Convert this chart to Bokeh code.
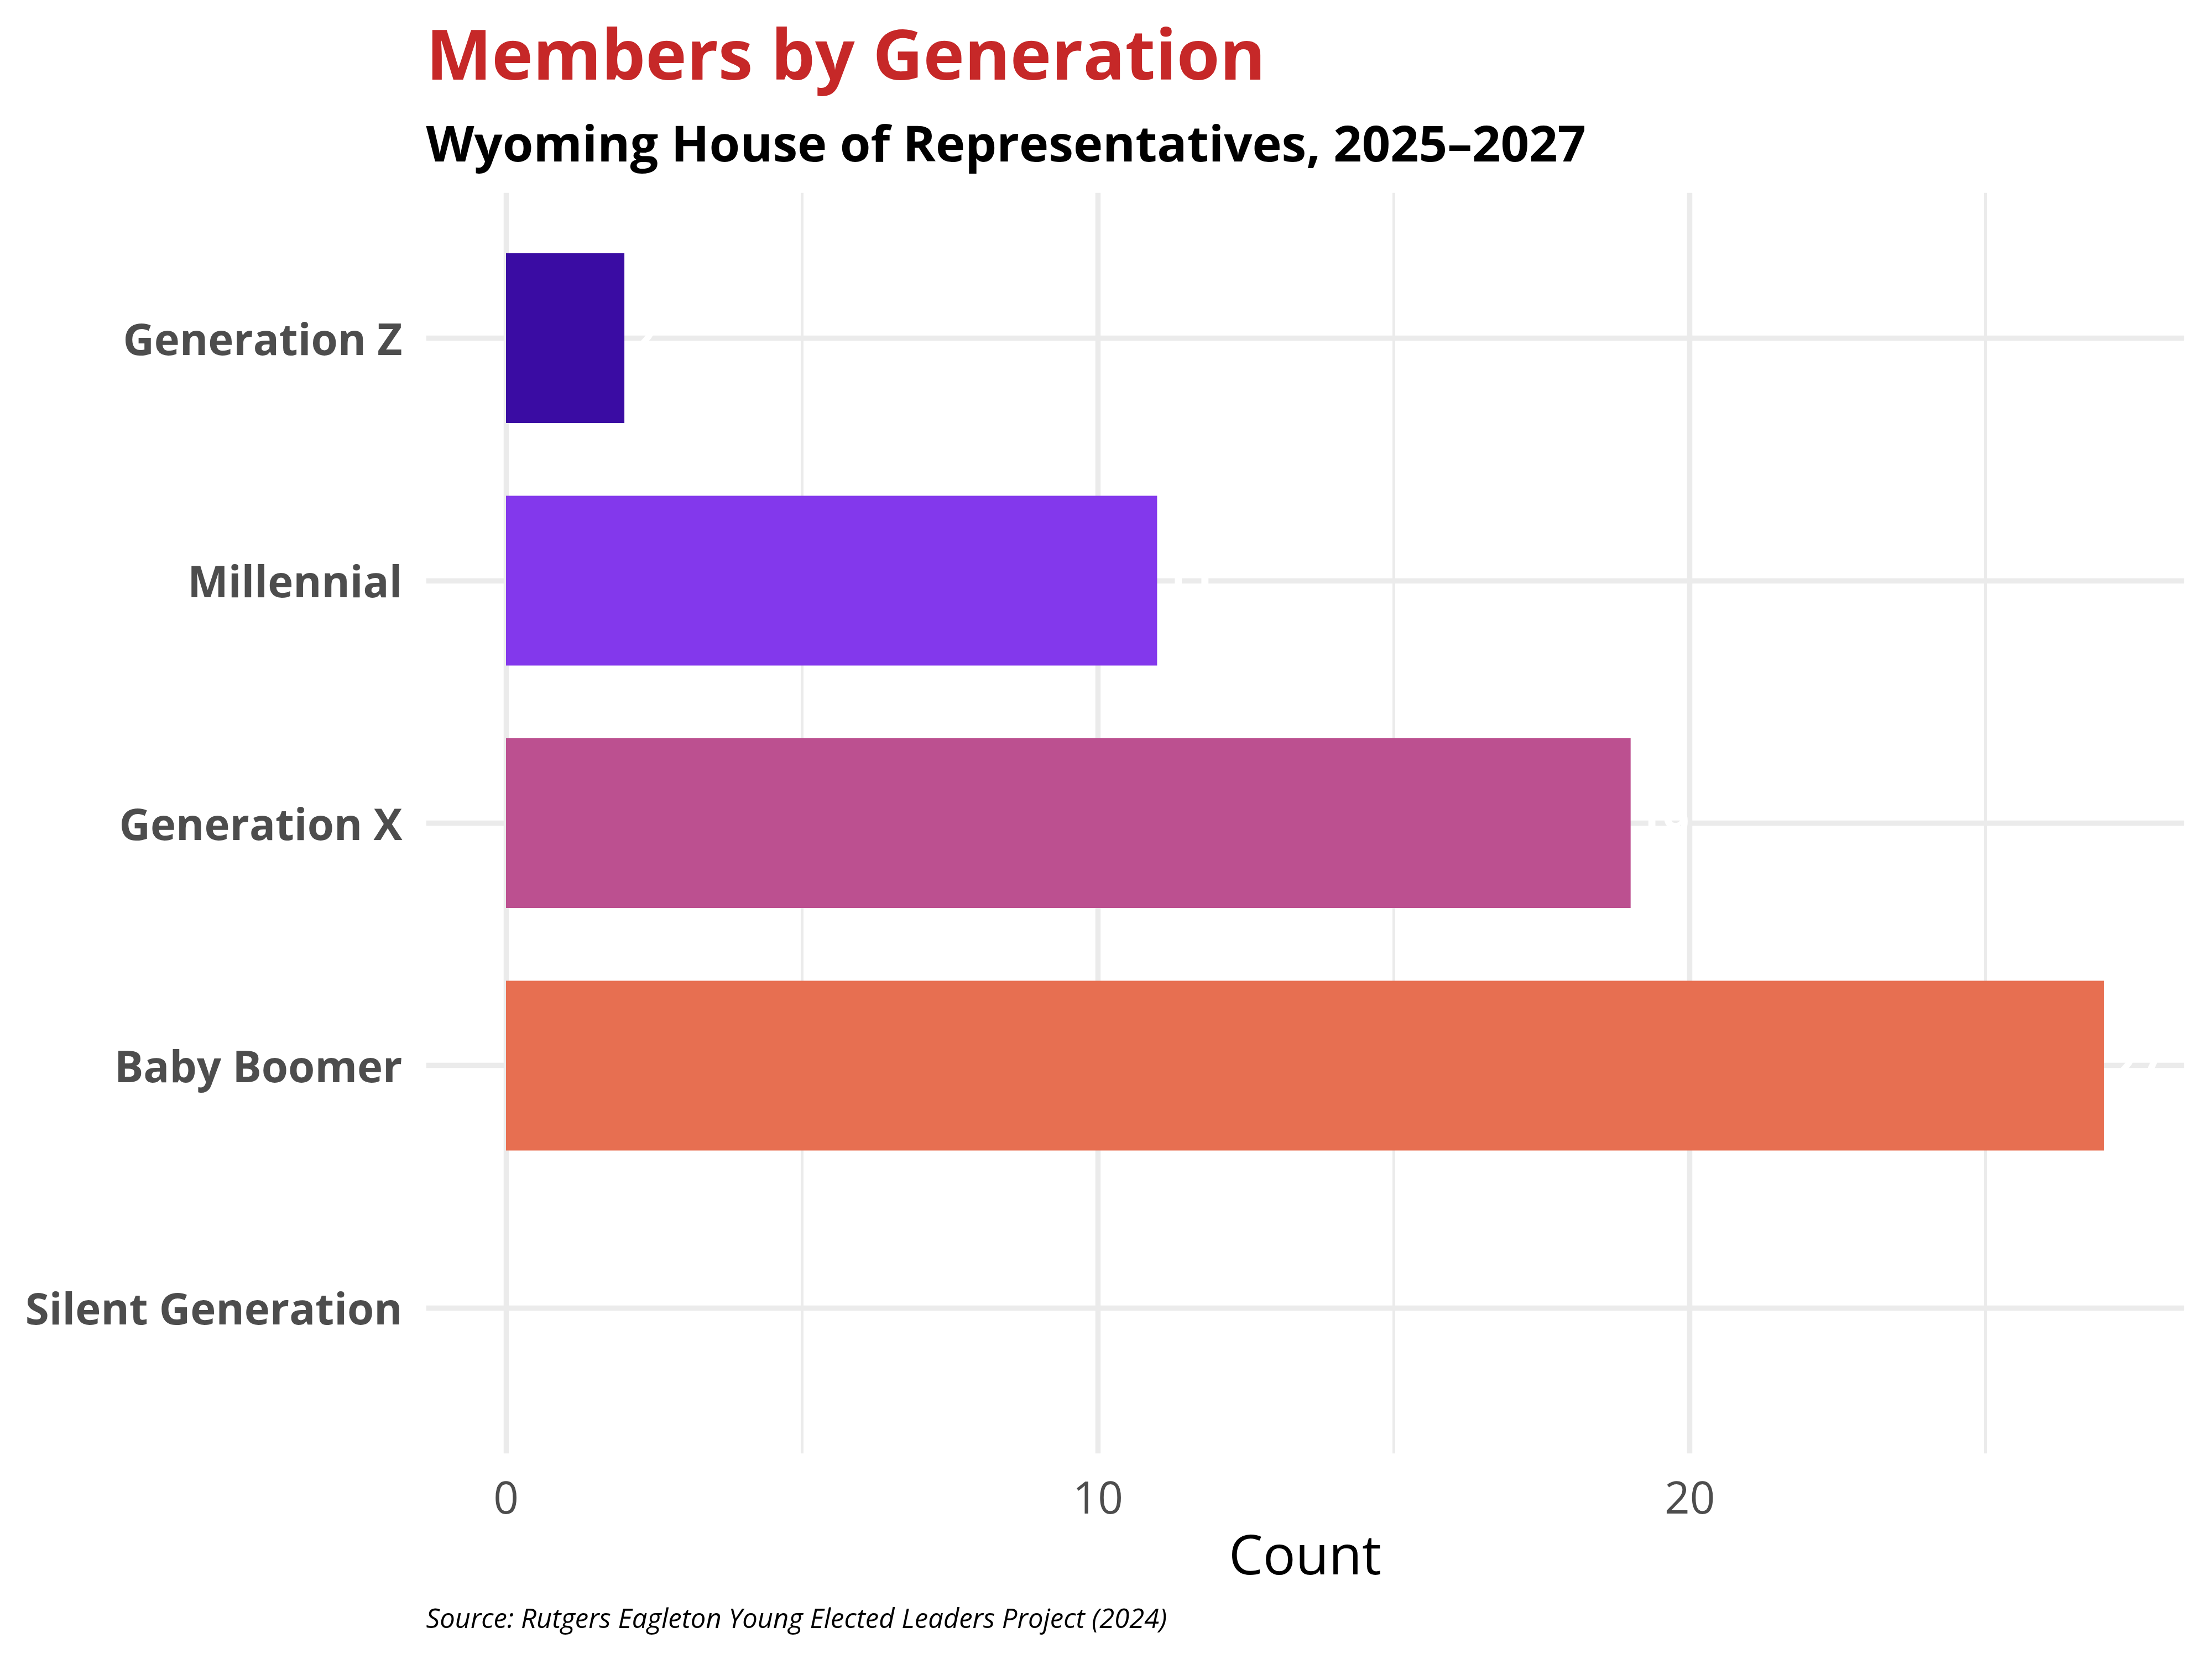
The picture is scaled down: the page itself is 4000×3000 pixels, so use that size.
from bokeh.plotting import figure
from bokeh.models import FactorRange, Range1d, FixedTicker, Title, ColumnDataSource
from bokeh.core.properties import value
from bokeh.embed import file_html
from bokeh.resources import INLINE

# ---- data ----
generations = ["Silent Generation", "Baby Boomer", "Generation X", "Millennial", "Generation Z"]
counts = [0, 27, 19, 11, 2]
bar_colors = ["#F4A261", "#E76F51", "#BC5090", "#8338EC", "#3A0CA3"]
x_ticks = [0, 10, 20]
x_minor_ticks = [5, 15, 25]

title_text = "Members by Generation"
subtitle_text = "Wyoming House of Representatives, 2025\u20132027"
source_text = "Source: Rutgers Eagleton Young Elected Leaders Project (2024)"
x_label = "Count"

FONT = "Open Sans"

src = ColumnDataSource(dict(gen=generations, n=counts, color=bar_colors))
lab_idx = [i for i, c in enumerate(counts) if c > 0]
lab_src = ColumnDataSource(dict(gen=[generations[i] for i in lab_idx],
                                n=[counts[i] for i in lab_idx],
                                txt=[str(counts[i]) for i in lab_idx]))

p = figure(width=3984, height=2984,
           y_range=FactorRange(factors=generations, range_padding=0.1, range_padding_units="absolute"),
           x_range=Range1d(-1.35, 28.35),
           output_backend="svg", toolbar_location=None, title=None,
           min_border_left=770, min_border_right=35, min_border_top=348, min_border_bottom=356)

p.background_fill_color = "white"
p.border_fill_color = "white"
p.outline_line_color = None

p.hbar(y="gen", right="n", left=0, height=0.7, fill_color="color", line_color=None, source=src)
p.text(x="n", y="gen", text="txt", source=lab_src, x_offset=10,
       text_align="left", text_baseline="middle", text_color="white",
       text_font=value(FONT), text_font_size="84px", text_font_style="bold")

# grids
p.xaxis.ticker = FixedTicker(ticks=x_ticks, minor_ticks=x_minor_ticks)
p.xgrid.grid_line_color = "#EBEBEB"
p.xgrid.grid_line_width = 9.5
p.xgrid.minor_grid_line_color = "#EBEBEB"
p.xgrid.minor_grid_line_width = 5
p.ygrid.grid_line_color = "#EBEBEB"
p.ygrid.grid_line_width = 9.5

for ax in (p.xaxis, p.yaxis):
    ax.axis_line_color = None
    ax.major_tick_line_color = None
    ax.minor_tick_line_color = None
    ax.major_tick_out = 0
    ax.major_tick_in = 0
    ax.minor_tick_out = 0
    ax.minor_tick_in = 0
    ax.major_label_text_font = FONT
    ax.major_label_text_color = "#4D4D4D"

p.yaxis.major_label_text_font_size = "78px"
p.yaxis.major_label_text_font_style = "bold"
p.yaxis.major_label_standoff = 43

p.xaxis.major_label_text_font_size = "80px"
p.xaxis.major_label_standoff = 50
p.xaxis.axis_label = x_label
p.xaxis.axis_label_text_font = FONT
p.xaxis.axis_label_text_font_size = "98px"
p.xaxis.axis_label_text_font_style = "normal"
p.xaxis.axis_label_text_color = "black"
p.xaxis.axis_label_standoff = 2

# titles
p.add_layout(Title(text=subtitle_text, align="left", text_font=FONT, text_font_size="90px",
                   text_font_style="bold", text_color="black", standoff=62), "above")
p.add_layout(Title(text=title_text, align="left", text_font=FONT, text_font_size="126px",
                   text_font_style="bold", text_color="#C62828", standoff=-36), "above")
p.add_layout(Title(text=source_text, align="left", text_font=FONT, text_font_size="49px",
                   text_font_style="italic", text_color="black", standoff=22), "below")

open("out.html", "w").write(file_html(p, INLINE))
